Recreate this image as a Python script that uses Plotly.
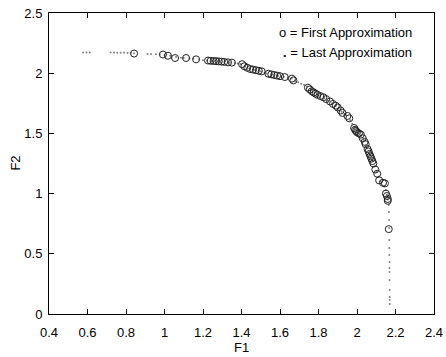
import plotly.graph_objects as go

# First approximation (open circles)
first_f1 = [0.842, 0.992, 1.018, 1.055, 1.112, 1.164,
            1.226, 1.240, 1.255, 1.268, 1.282, 1.296, 1.310, 1.330, 1.350,
            1.403, 1.415,
            1.430, 1.445, 1.460, 1.475, 1.490, 1.505,
            1.540, 1.555, 1.570, 1.585, 1.600, 1.625,
            1.662, 1.670,
            1.745, 1.755, 1.765, 1.775, 1.785, 1.795, 1.810, 1.825, 1.840, 1.860, 1.875, 1.890, 1.900,
            1.915, 1.925, 1.950, 1.960,
            1.985, 1.990, 1.995, 2.000, 2.010, 2.020,
            2.030, 2.040, 2.045,
            2.055, 2.060, 2.065, 2.070, 2.075, 2.080, 2.085,
            2.095, 2.105,
            2.115, 2.135, 2.145,
            2.150, 2.155, 2.160, 2.160,
            2.165]
first_f2 = [2.163, 2.155, 2.145, 2.126, 2.126, 2.115,
            2.105, 2.103, 2.101, 2.100, 2.098, 2.096, 2.094, 2.090, 2.088,
            2.075, 2.058,
            2.045, 2.035, 2.030, 2.025, 2.020, 2.015,
            1.995, 1.990, 1.985, 1.980, 1.975, 1.968,
            1.955, 1.940,
            1.880, 1.865, 1.850, 1.840, 1.830, 1.820, 1.810, 1.800, 1.785, 1.765, 1.745, 1.730, 1.715,
            1.690, 1.670, 1.645, 1.625,
            1.545, 1.530, 1.520, 1.510, 1.500, 1.490,
            1.460, 1.430, 1.410,
            1.370, 1.350, 1.330, 1.310, 1.290, 1.270, 1.250,
            1.200, 1.165,
            1.110, 1.090, 1.085,
            1.000, 0.980, 0.955, 0.940,
            0.705]

# Last approximation (small dots)
last_f1 = [0.577, 0.595, 0.612, 0.720, 0.738, 0.755, 0.772, 0.790, 0.808, 0.825, 0.842,
           0.912, 0.930, 0.955, 0.975, 1.000, 1.030, 1.060, 1.085, 1.100, 1.130, 1.150,
           1.180, 1.200, 1.220, 1.250, 1.280, 1.310, 1.340, 1.365, 1.380, 1.395, 1.420,
           1.440, 1.470, 1.500, 1.520, 1.530, 1.560, 1.590, 1.620, 1.640, 1.660, 1.680,
           1.695, 1.710, 1.725, 1.740, 1.760, 1.780, 1.800, 1.830, 1.850, 1.870, 1.890,
           1.905, 1.920, 1.935, 1.945, 1.965, 1.975, 1.985, 2.000, 2.020, 2.035, 2.050,
           2.065, 2.080, 2.090, 2.100, 2.110, 2.120, 2.140, 2.150, 2.155, 2.160, 2.165,
           2.166, 2.167, 2.167, 2.168, 2.168, 2.168, 2.169, 2.169, 2.169, 2.169, 2.170,
           2.170, 2.170, 2.170]
last_f2 = [2.172, 2.172, 2.172, 2.171, 2.171, 2.170, 2.170, 2.169, 2.168, 2.167, 2.165,
           2.160, 2.159, 2.157, 2.155, 2.152, 2.145, 2.135, 2.128, 2.126, 2.123, 2.119,
           2.113, 2.108, 2.106, 2.101, 2.098, 2.094, 2.089, 2.084, 2.080, 2.076, 2.055,
           2.040, 2.028, 2.016, 2.005, 1.998, 1.990, 1.978, 1.970, 1.962, 1.955, 1.935,
           1.925, 1.913, 1.905, 1.890, 1.860, 1.835, 1.815, 1.795, 1.772, 1.750, 1.730,
           1.705, 1.680, 1.660, 1.648, 1.610, 1.580, 1.550, 1.510, 1.480, 1.445, 1.390,
           1.335, 1.275, 1.225, 1.180, 1.140, 1.100, 1.060, 1.030, 0.990, 0.950, 0.905,
           0.847, 0.781, 0.714, 0.615, 0.548, 0.490, 0.432, 0.382, 0.349, 0.282, 0.199,
           0.141, 0.116, 0.083]

x_ticks = [0.4, 0.6, 0.8, 1, 1.2, 1.4, 1.6, 1.8, 2, 2.2, 2.4]
y_ticks = [0, 0.5, 1, 1.5, 2, 2.5]
legend_lines = ["o = First Approximation", "<b>.</b> = Last Approximation"]
x_title = "F1"
y_title = "F2"

FONT = "Liberation Sans, Arial, Helvetica, sans-serif"
FS = 13
TF = dict(family=FONT, size=FS, color="black")

fig = go.Figure()
fig.add_trace(go.Scatter(
    x=last_f1, y=last_f2, mode="markers",
    marker=dict(symbol="circle", size=2, color="#808080"),
    hoverinfo="skip", showlegend=False))
fig.add_trace(go.Scatter(
    x=first_f1, y=first_f2, mode="markers",
    marker=dict(symbol="circle-open", size=7, color="#222222", line=dict(width=1, color="#222222")),
    showlegend=False))

fig.add_annotation(x=2.295, y=2.34, xref="x", yref="y", text=legend_lines[0],
                   showarrow=False, xanchor="right", yanchor="middle", font=TF)
fig.add_annotation(x=2.295, y=2.172, xref="x", yref="y", text=legend_lines[1],
                   showarrow=False, xanchor="right", yanchor="middle", font=TF)

# axis titles placed in paper coordinates relative to the plot area
fig.add_annotation(x=0.5, y=-0.11, xref="paper", yref="paper", text=x_title,
                   showarrow=False, xanchor="center", yanchor="middle", font=TF)
fig.add_annotation(x=-0.088, y=0.5, xref="paper", yref="paper", text=y_title,
                   showarrow=False, xanchor="center", yanchor="middle", textangle=-90, font=TF)

axis_common = dict(showgrid=False, zeroline=False, showline=True, linecolor="black",
                   linewidth=1, mirror="ticks", ticks="inside", ticklen=5,
                   tickcolor="black", automargin=False, tickfont=TF)

fig.update_xaxes(range=[0.4, 2.4], tickvals=x_ticks, ticktext=[str(v) for v in x_ticks],
                 ticklabelstandoff=6, **axis_common)
fig.update_yaxes(range=[0, 2.5], tickvals=y_ticks, ticktext=[str(v) for v in y_ticks],
                 ticklabelstandoff=3, **axis_common)

fig.update_layout(width=446, height=357,
                  margin=dict(l=49, r=12, t=13, b=43),
                  paper_bgcolor="white", plot_bgcolor="white",
                  font=TF)

fig.write_html("out.html")
